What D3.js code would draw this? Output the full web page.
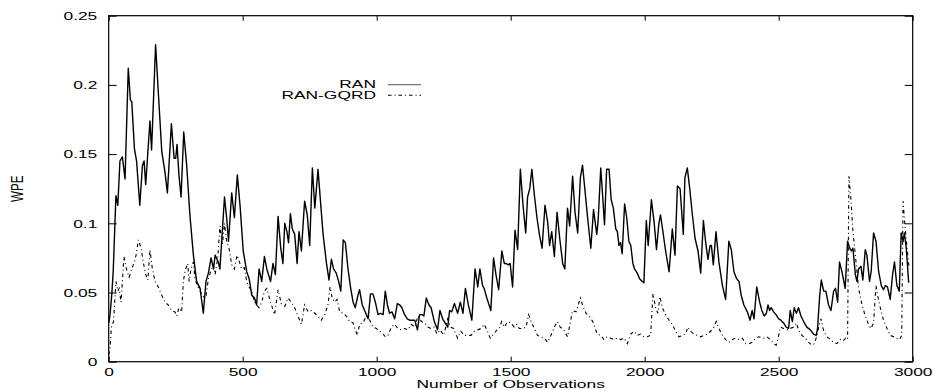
<!DOCTYPE html>
<html>
<head>
<meta charset="utf-8">
<script src="https://cdn.jsdelivr.net/npm/d3@7"></script>
<style>
  html, body { margin: 0; padding: 0; background: #fff; }
  svg { display: block; }
</style>
</head>
<body>
<div id="chart"></div>
<script>
const ranSeries = [
  [0,.028],[5,.034],[12,.050],[17,.066],[27,.120],[34,.113],[42,.145],[51,.148],[61,.132],[73,.212],
  [81,.189],[86,.188],[96,.154],[104,.145],[116,.113],[126,.142],[132,.145],[138,.128],[154,.174],[160,.153],
  [175,.229],[185,.195],[198,.152],[210,.137],[219,.122],[234,.172],[244,.147],[250,.147],[255,.157],[262,.135],
  [270,.119],[280,.166],[291,.142],[303,.106],[316,.077],[328,.058],[341,.053],[353,.035],[363,.058],[372,.064],
  [382,.075],[391,.067],[397,.077],[409,.072],[415,.067],[432,.119],[440,.104],[447,.087],[459,.122],[469,.104],
  [480,.135],[490,.113],[502,.080],[515,.065],[524,.060],[534,.048],[544,.046],[552,.041],[561,.067],[571,.058],
  [581,.076],[590,.067],[604,.058],[613,.071],[622,.063],[632,.105],[642,.082],[650,.071],[657,.100],[665,.094],
  [671,.086],[678,.107],[685,.096],[694,.092],[703,.071],[710,.094],[719,.080],[731,.116],[741,.106],[750,.084],
  [760,.140],[769,.111],[781,.139],[791,.114],[800,.092],[812,.072],[822,.059],[831,.074],[839,.067],[849,.064],
  [858,.058],[866,.051],[875,.088],[883,.086],[893,.067],[903,.053],[912,.043],[920,.039],[930,.048],[936,.052],
  [946,.041],[955,.037],[968,.031],[977,.049],[986,.049],[995,.043],[1005,.034],[1014,.035],[1024,.034],[1032,.051],
  [1040,.041],[1048,.035],[1057,.036],[1067,.031],[1077,.042],[1086,.041],[1094,.039],[1104,.034],[1114,.031],[1123,.030],
  [1132,.030],[1142,.030],[1152,.023],[1160,.034],[1169,.034],[1176,.033],[1185,.046],[1195,.041],[1203,.039],[1215,.029],
  [1227,.023],[1236,.037],[1246,.031],[1255,.028],[1265,.025],[1272,.037],[1280,.036],[1290,.042],[1302,.035],[1312,.043],
  [1322,.035],[1331,.053],[1342,.041],[1355,.030],[1367,.067],[1377,.054],[1385,.067],[1395,.055],[1401,.053],[1411,.046],
  [1426,.037],[1436,.075],[1445,.063],[1455,.052],[1467,.080],[1476,.071],[1482,.071],[1491,.070],[1498,.071],[1507,.054],
  [1516,.095],[1526,.081],[1536,.139],[1546,.113],[1556,.093],[1563,.119],[1571,.125],[1579,.139],[1588,.121],[1598,.104],
  [1607,.092],[1617,.082],[1628,.113],[1638,.101],[1645,.084],[1653,.094],[1663,.076],[1673,.108],[1683,.089],[1694,.071],
  [1702,.067],[1712,.111],[1720,.098],[1731,.134],[1740,.108],[1750,.093],[1760,.133],[1768,.142],[1777,.124],[1787,.104],
  [1799,.082],[1809,.110],[1821,.092],[1826,.101],[1836,.140],[1842,.123],[1850,.099],[1858,.139],[1867,.139],[1875,.117],
  [1883,.111],[1892,.096],[1898,.094],[1904,.084],[1910,.086],[1916,.078],[1925,.114],[1933,.104],[1941,.087],[1948,.084],
  [1956,.071],[1962,.067],[1972,.064],[1981,.060],[1991,.058],[1997,.057],[2006,.102],[2013,.084],[2025,.117],[2035,.101],
  [2044,.081],[2053,.100],[2059,.106],[2068,.094],[2078,.080],[2091,.065],[2103,.096],[2113,.077],[2122,.127],[2132,.125],
  [2144,.092],[2150,.133],[2159,.140],[2168,.125],[2178,.106],[2188,.089],[2199,.080],[2209,.064],[2219,.102],[2227,.087],
  [2236,.074],[2244,.084],[2249,.084],[2256,.070],[2266,.094],[2277,.072],[2290,.055],[2302,.045],[2314,.087],[2323,.081],
  [2333,.065],[2343,.060],[2352,.058],[2360,.048],[2370,.041],[2383,.036],[2393,.030],[2401,.037],[2408,.031],[2418,.054],
  [2429,.043],[2437,.037],[2446,.033],[2454,.035],[2460,.041],[2466,.037],[2472,.039],[2481,.036],[2490,.034],[2500,.031],
  [2508,.030],[2518,.028],[2528,.025],[2537,.024],[2543,.037],[2551,.029],[2558,.039],[2566,.035],[2574,.039],[2583,.033],
  [2593,.029],[2605,.025],[2618,.023],[2630,.020],[2640,.019],[2645,.024],[2653,.048],[2659,.059],[2668,.051],[2676,.051],
  [2686,.041],[2695,.037],[2705,.051],[2712,.053],[2720,.043],[2727,.072],[2736,.065],[2748,.053],[2757,.087],[2765,.082],
  [2771,.080],[2777,.082],[2786,.063],[2792,.058],[2798,.067],[2807,.069],[2814,.059],[2823,.081],[2829,.077],[2839,.058],
  [2845,.065],[2854,.093],[2863,.087],[2873,.065],[2883,.055],[2891,.052],[2898,.055],[2906,.054],[2916,.045],[2925,.063],
  [2932,.072],[2941,.055],[2950,.051],[2957,.093],[2964,.087],[2969,.093],[2976,.082],[2985,.057]
];

const gqrdSeries = [
  [0,.005],[5,.010],[10,.025],[18,.029],[27,.058],[34,.051],[39,.053],[46,.043],[57,.076],[66,.067],
  [76,.061],[86,.067],[96,.072],[102,.077],[111,.088],[121,.082],[129,.072],[138,.063],[146,.059],[154,.081],
  [163,.067],[173,.058],[185,.054],[198,.048],[210,.043],[222,.041],[235,.037],[247,.036],[254,.033],[262,.039],
  [272,.036],[279,.059],[287,.067],[295,.071],[300,.058],[307,.067],[316,.072],[322,.060],[331,.055],[341,.051],
  [353,.047],[363,.047],[372,.060],[382,.066],[391,.070],[397,.063],[407,.075],[415,.098],[424,.084],[432,.100],
  [440,.087],[449,.082],[459,.070],[469,.067],[479,.077],[488,.072],[496,.067],[506,.068],[515,.058],[524,.054],
  [534,.051],[544,.043],[552,.041],[561,.039],[571,.043],[581,.051],[590,.053],[604,.043],[619,.034],[632,.052],
  [644,.042],[657,.040],[669,.046],[681,.043],[694,.039],[706,.033],[719,.027],[731,.041],[744,.036],[756,.037],
  [769,.035],[781,.033],[793,.030],[806,.034],[818,.041],[826,.054],[834,.046],[843,.043],[852,.045],[862,.036],
  [874,.035],[887,.033],[899,.029],[912,.028],[920,.023],[928,.019],[936,.027],[949,.028],[961,.033],[974,.030],
  [986,.025],[999,.024],[1011,.022],[1024,.020],[1032,.018],[1042,.019],[1055,.025],[1067,.027],[1079,.024],[1092,.023],
  [1104,.024],[1117,.023],[1129,.027],[1142,.025],[1154,.033],[1167,.029],[1179,.028],[1191,.025],[1203,.024],[1214,.025],
  [1225,.020],[1237,.023],[1250,.019],[1265,.031],[1275,.025],[1287,.024],[1302,.017],[1314,.022],[1327,.019],[1339,.019],
  [1352,.019],[1364,.022],[1377,.023],[1389,.024],[1401,.027],[1411,.023],[1424,.017],[1436,.020],[1449,.023],[1458,.024],
  [1466,.029],[1476,.025],[1489,.029],[1501,.028],[1513,.025],[1523,.027],[1532,.024],[1545,.024],[1557,.025],[1567,.034],
  [1578,.028],[1591,.023],[1600,.019],[1613,.018],[1625,.017],[1638,.014],[1650,.019],[1663,.025],[1673,.029],[1685,.025],
  [1698,.023],[1712,.018],[1722,.028],[1731,.037],[1744,.036],[1752,.041],[1760,.046],[1768,.041],[1781,.035],[1793,.033],
  [1806,.029],[1823,.020],[1836,.019],[1848,.016],[1860,.018],[1873,.017],[1885,.016],[1898,.017],[1910,.016],[1923,.017],
  [1935,.013],[1948,.020],[1960,.022],[1972,.019],[1985,.020],[1997,.018],[2010,.018],[2022,.019],[2031,.049],[2041,.039],
  [2049,.035],[2057,.047],[2066,.039],[2078,.034],[2091,.030],[2103,.027],[2115,.022],[2128,.018],[2140,.019],[2153,.020],
  [2161,.025],[2171,.022],[2184,.020],[2196,.019],[2209,.018],[2221,.019],[2234,.020],[2246,.022],[2258,.025],[2267,.029],
  [2277,.024],[2290,.019],[2302,.016],[2314,.014],[2327,.016],[2339,.017],[2352,.016],[2364,.017],[2377,.013],[2389,.013],
  [2401,.014],[2414,.017],[2426,.018],[2444,.017],[2456,.018],[2469,.016],[2481,.013],[2491,.012],[2500,.019],[2506,.025],
  [2518,.024],[2531,.023],[2543,.024],[2556,.025],[2566,.028],[2574,.023],[2587,.019],[2599,.017],[2612,.014],[2624,.012],
  [2633,.013],[2643,.019],[2649,.025],[2658,.031],[2668,.022],[2680,.018],[2692,.016],[2705,.014],[2717,.013],[2730,.016],
  [2740,.015],[2750,.017],[2757,.016],[2762,.134],[2770,.116],[2777,.094],[2786,.077],[2798,.053],[2811,.041],[2823,.033],
  [2835,.027],[2844,.024],[2854,.028],[2863,.055],[2869,.048],[2879,.039],[2891,.030],[2904,.024],[2916,.019],[2929,.018],
  [2941,.017],[2951,.016],[2959,.019],[2964,.116],[2970,.101],[2978,.084],[2987,.067]
];

const xTicks = [0, 500, 1000, 1500, 2000, 2500, 3000];
const yTicks = [0, 0.05, 0.1, 0.15, 0.2, 0.25];
const legendLabels = ['RAN', 'RAN-GQRD'];

const width = 935, height = 390;
const margin = { top: 15.7, right: 22.3, bottom: 28.3, left: 108.7 };
const plotW = width - margin.left - margin.right;
const plotH = height - margin.top - margin.bottom;
const stretch = 1.5; // text in the original is widened horizontally
const font = '"Liberation Sans", Arial, Helvetica, sans-serif';
const fontSize = 11.6;

const svg = d3.select('#chart')
  .append('svg')
  .attr('width', width)
  .attr('height', height);

const g = svg.append('g')
  .attr('transform', `translate(${margin.left},${margin.top})`);

const x = d3.scaleLinear().domain([0, 3000]).range([0, plotW]);
const y = d3.scaleLinear().domain([0, 0.25]).range([plotH, 0]);

function styleAxis(sel) {
  sel.select('.domain').remove();
  sel.selectAll('.tick line').attr('stroke', '#000').attr('stroke-width', 1);
  sel.selectAll('text')
    .attr('font-family', font)
    .attr('font-size', fontSize)
    .attr('fill', '#000')
    .attr('transform', `scale(${stretch},1)`);
}

// bottom axis with labels
g.append('g')
  .attr('transform', `translate(0,${plotH})`)
  .call(d3.axisBottom(x).tickValues(xTicks).tickSize(-5).tickPadding(6).tickFormat(d3.format('d')))
  .call(styleAxis);

// top mirror ticks
g.append('g')
  .call(d3.axisTop(x).tickValues(xTicks).tickSize(-5).tickFormat(''))
  .call(styleAxis);

// left axis with labels
g.append('g')
  .call(d3.axisLeft(y).tickValues(yTicks).tickSize(-8).tickPadding(11.4 / stretch).tickFormat(d => d === 0 ? '0' : String(+d.toFixed(2))))
  .call(styleAxis);

// right mirror ticks
g.append('g')
  .attr('transform', `translate(${plotW},0)`)
  .call(d3.axisRight(y).tickValues(yTicks).tickSize(-8).tickFormat(''))
  .call(styleAxis);

// frame
g.append('rect')
  .attr('width', plotW)
  .attr('height', plotH)
  .attr('fill', 'none')
  .attr('stroke', '#000')
  .attr('stroke-width', 1.2);

const line = d3.line()
  .x(d => x(d[0]))
  .y(d => y(d[1]));

g.append('path')
  .datum(gqrdSeries)
  .attr('d', line)
  .attr('fill', 'none')
  .attr('stroke', '#000')
  .attr('stroke-width', 1.1)
  .attr('stroke-dasharray', '3.5,3,1,3');

g.append('path')
  .datum(ranSeries)
  .attr('d', line)
  .attr('fill', 'none')
  .attr('stroke', '#000')
  .attr('stroke-width', 1.4)
  .attr('stroke-linejoin', 'round');

// axis titles
svg.append('text')
  .attr('transform', `translate(${margin.left + plotW / 2},387.5) scale(${stretch},1)`)
  .attr('text-anchor', 'middle')
  .attr('font-family', font)
  .attr('font-size', fontSize)
  .text('Number of Observations');

svg.append('text')
  .attr('transform', `translate(22.5,${margin.top + plotH / 2}) scale(${stretch},1) rotate(-90)`)
  .attr('text-anchor', 'middle')
  .attr('font-family', font)
  .attr('font-size', fontSize)
  .text('WPE');

// legend
const legend = svg.append('g');
const legendRows = [
  { label: legendLabels[0], dash: null, width: 1.4, ty: 87.6, ly: 84.6 },
  { label: legendLabels[1], dash: '3.5,3,1,3', width: 1.1, ty: 98.6, ly: 95.2 }
];
legendRows.forEach(r => {
  legend.append('text')
    .attr('transform', `translate(376,${r.ty}) scale(${stretch},1)`)
    .attr('text-anchor', 'end')
    .attr('font-family', font)
    .attr('font-size', fontSize)
    .text(r.label);
  legend.append('line')
    .attr('x1', 388).attr('x2', 421)
    .attr('y1', r.ly).attr('y2', r.ly)
    .attr('stroke', r.dash ? '#000' : '#777')
    .attr('stroke-width', r.width)
    .attr('stroke-dasharray', r.dash);
});
</script>
</body>
</html>
